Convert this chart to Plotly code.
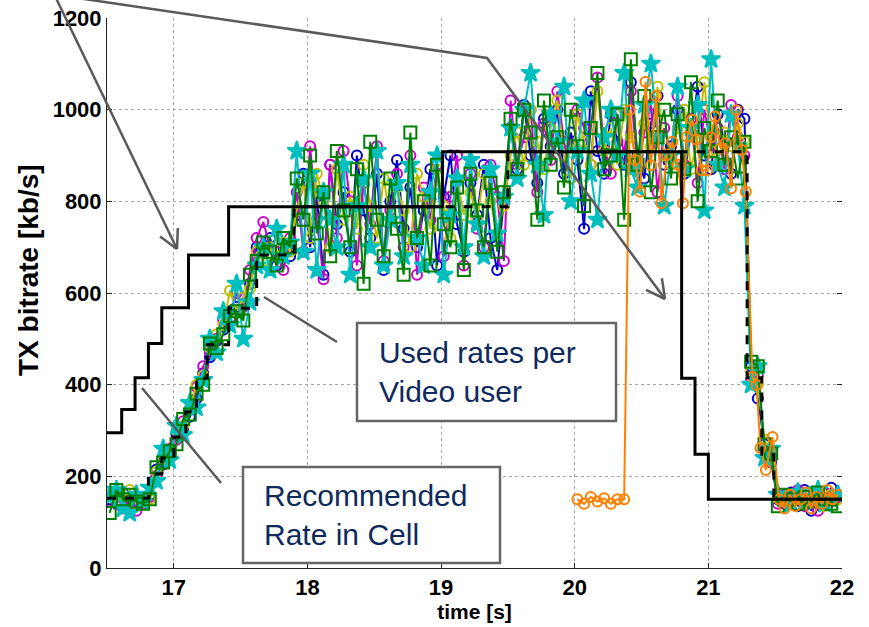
import math
import plotly.graph_objects as go

# ---------------------------------------------------------------------------
# Data
# ---------------------------------------------------------------------------
# reporting instants of the five video users (s)
t_user = [round(16.52 + 0.05 * k, 2) for k in range(110)]

user_blue = [
    150, 140, 165, 135, 155, 150, 160,
    215, 230, 250, 290, 305, 330, 370, 425, 460, 495, 520, 560, 570, 590, 620, 700,
    690, 720, 660, 700, 680,
    770, 860, 700, 810, 640, 880, 750, 820, 690, 900, 780, 720, 860, 650, 800, 890,
    740, 830, 700, 780, 870, 660, 810, 900, 750, 690, 840, 770, 880, 720, 650, 800,
    960, 870, 1010, 900, 840, 980, 920, 1000, 860, 950, 890, 740, 1040, 910, 860, 990,
    930, 880, 1060, 900, 850, 970, 1030, 880, 920, 1000, 860, 950, 1050, 900, 870, 990,
    930, 860, 1000, 980,
    440, 370, 270, 230,
    150, 140, 165, 135, 170, 125, 160, 145, 175, 160,
]
user_magenta = [
    145, 160, 130, 150, 125, 140, 155,
    200, 225, 260, 280, 320, 345, 395, 440, 470, 500, 540, 545, 600, 570, 650, 720,
    755, 700, 690, 650, 720,
    820, 690, 920, 760, 630, 880, 720, 910, 800, 660, 840, 750, 920, 670, 780, 860,
    700, 900, 640, 830, 760, 880, 680, 810, 900, 660, 860, 740, 700, 880, 810, 670,
    1020, 880, 940, 1000, 820, 970, 890, 1040, 930, 850, 1000, 960, 880, 1070, 920, 860,
    990, 900, 1040, 870, 950, 1010, 820, 960, 900, 1030, 880, 980, 840, 1000, 920, 960,
    870, 1010, 940, 900,
    410, 420, 260, 245,
    140, 160, 150, 170, 135, 150, 125, 165, 145, 155,
]
user_olive = [
    160, 145, 155, 170, 140, 155, 150,
    210, 240, 245, 300, 310, 350, 400, 420, 480, 510, 530, 605, 560, 590, 610, 690,
    670, 700, 680, 710, 690,
    780, 840, 720, 860, 800, 700, 870, 760, 810, 740, 880, 790, 720, 850, 760, 830,
    780, 700, 860, 810, 740, 870, 790, 720, 850, 770, 820, 760, 860, 800, 730, 790,
    900, 950, 880, 1000, 930, 870, 960, 1020, 900, 850, 990, 930, 880, 1040, 910, 960,
    880, 1000, 940, 890, 970, 920, 1050, 900, 880, 960, 1000, 870, 940, 1060, 910, 880,
    950, 920, 970, 930,
    430, 400, 280, 240,
    155, 145, 160, 150, 140, 165, 150, 135, 160, 150,
]
user_cyan = [
    155, 170, 130, 120, 160, 145, 175,
    190, 260, 235, 310, 290, 360, 350, 410, 500, 470, 560, 530, 620, 500, 580, 660,
    700, 650, 740, 680, 710,
    910, 690, 860, 650, 820, 760, 700, 880, 640, 790, 850, 700, 910, 660, 760, 840,
    680, 880, 720, 660, 820, 900, 640, 770, 850, 700, 890, 750, 680, 870, 730, 810,
    960, 850, 1000, 1080, 880, 770, 990, 930, 1050, 800, 910, 1020, 860, 760, 940, 1000,
    900, 1080, 870, 830, 1010, 1100, 940, 790, 900, 1050, 870, 960, 1010, 780, 1110, 880,
    830, 990, 920, 790,
    400, 440, 240, 260,
    160, 150, 140, 165, 145, 155, 170, 140, 150, 160,
]
user_green = [
    120, 170, 150, 160, 145, 140, 150,
    220, 230, 255, 270, 325, 335, 380, 400, 490, 480, 510, 550, 560, 540, 640, 670,
    710, 690, 660, 720, 700,
    850, 760, 900, 730, 820, 680, 910, 780, 700, 870, 620, 930, 760, 680, 850, 740,
    640, 950, 720, 800, 660, 880, 750, 700, 830, 650, 860, 780, 700, 840, 690, 820,
    980, 870, 1000, 950, 760, 1020, 880, 940, 830, 1000, 920, 790, 960, 1080, 870, 900,
    990, 760, 1110, 880, 1030, 820, 940, 1000, 850, 990, 870, 1060, 800, 960, 910, 1020,
    880, 940, 850, 930,
    450, 440, 270, 250,
    135, 160, 150, 140, 155, 145, 165, 150, 140, 135,
]

# sixth user joins late
t_orange = [
    20.02, 20.07, 20.12, 20.17, 20.22, 20.27, 20.32, 20.37,
    20.41, 20.45, 20.49, 20.53, 20.57, 20.61, 20.65, 20.69,
    20.73, 20.77, 20.81, 20.84, 20.88, 20.91, 20.95, 20.99,
    21.02, 21.05, 21.09, 21.13, 21.17, 21.21, 21.25, 21.28,
    21.33, 21.36, 21.39, 21.43, 21.48,
    21.53, 21.57, 21.61, 21.65, 21.69, 21.73, 21.77, 21.81,
    21.85, 21.89, 21.93, 21.97,
]
user_orange = [
    150, 140, 155, 145, 152, 140, 150, 150,
    999, 890, 821, 1061, 879, 1030, 796, 901,
    930, 880, 796, 941, 978, 935, 868, 868,
    940, 985, 916, 927, 828, 999, 912, 821,
    417, 399, 262, 214, 286,
    150, 130, 160, 135, 150, 165, 130, 155,
    140, 170, 150, 160,
]

# recommended cell rate (step changes)
t_recommended = [16.5, 16.61, 16.71, 16.81, 16.91, 17.11, 17.41, 19.01, 20.80, 20.90, 21.00, 22.0]
rate_recommended = [295, 346, 415, 490, 568, 683, 788, 908, 414, 248, 150, 150]

# rate actually selected for the video users (step changes)
t_selected = [16.5, 16.81, 16.91, 17.0, 17.09, 17.17, 17.25, 17.41, 17.62, 17.9,
              19.5, 21.29, 21.40, 21.49, 22.0]
rate_selected = [152, 205, 240, 286, 341, 414, 487, 567, 683, 788,
                 908, 415, 248, 150, 150]

x_ticks = [17, 18, 19, 20, 21, 22]
y_ticks = [0, 200, 400, 600, 800, 1000, 1200]

# ---------------------------------------------------------------------------
# Figure
# ---------------------------------------------------------------------------
W, H = 869, 627
L, R, T, B = 107, 27, 18, 59
PW, PH = W - L - R, H - T - B

FONT = "Arial, Liberation Sans, sans-serif"
TEXT_BLUE = "#0E2A5C"
GREY = "#5A5A5A"
AXIS = "#222222"

fig = go.Figure()

users = [
    (user_blue, "#0000CC", "circle-open", 10),
    (user_magenta, "#CC00CC", "circle-open", 10),
    (user_olive, "#BFBF00", "circle-open", 10),
    (user_cyan, "#00BFBF", "star", 14),
    (user_green, "#008000", "square-open", 12),
]
for vals, col, sym, sz in users:
    fig.add_trace(go.Scatter(
        x=t_user, y=vals, mode="lines+markers",
        line=dict(color=col, width=2),
        marker=dict(symbol=sym, size=sz, color=col, line=dict(color=col, width=2)),
        hoverinfo="skip",
    ))

fig.add_trace(go.Scatter(
    x=t_orange, y=user_orange, mode="lines+markers",
    line=dict(color="#FF8000", width=2),
    marker=dict(symbol="circle-open", size=10, color="#FF8000",
                line=dict(color="#FF8000", width=2)),
    hoverinfo="skip",
))

fig.add_trace(go.Scatter(
    x=t_recommended, y=rate_recommended, mode="lines", line_shape="hv",
    line=dict(color="black", width=3), hoverinfo="skip",
))
fig.add_trace(go.Scatter(
    x=t_selected, y=rate_selected, mode="lines", line_shape="hv",
    line=dict(color="black", width=3, dash="dash"), hoverinfo="skip",
))

# empty trace carrying the mirrored right-hand tick marks
fig.add_trace(go.Scatter(x=[], y=[], yaxis="y2", hoverinfo="skip"))


def px(xp):
    return (xp - L) / PW


def py(yp):
    return (H - B - yp) / PH


def arrow_arms(x0, y0, x1, y1, length=21, spread=28):
    ang = math.atan2(y1 - y0, x1 - x0)
    arms = []
    for s in (1, -1):
        a = ang + math.pi + s * math.radians(spread)
        arms.append((x1 + length * math.cos(a), y1 + length * math.sin(a)))
    return arms


shapes = []


def seg(x0, y0, x1, y1):
    shapes.append(dict(type="line", xref="paper", yref="paper",
                       x0=px(x0), y0=py(y0), x1=px(x1), y1=py(y1),
                       line=dict(color=GREY, width=2.5), layer="above"))


# callout arrows coming in from the top
seg(55, -4, 177, 249)
for ax, ay in arrow_arms(55, -4, 177, 249):
    seg(177, 249, ax, ay)
poly = [(50, -6), (487, 58), (665, 299)]
shapes.append(dict(
    type="path", xref="paper", yref="paper",
    path="M {} {} L {} {} L {} {}".format(px(poly[0][0]), py(poly[0][1]),
                                         px(poly[1][0]), py(poly[1][1]),
                                         px(poly[2][0]), py(poly[2][1])),
    line=dict(color=GREY, width=2.5), layer="above"))
for ax, ay in arrow_arms(487, 58, 665, 299):
    seg(665, 299, ax, ay)

# leader lines of the two text boxes
seg(264, 297, 337, 342)
seg(142, 388, 221, 483)

# text boxes
for (x0, y0, x1, y1) in [(357, 323, 616, 421), (243, 467, 500, 563)]:
    shapes.append(dict(type="rect", xref="paper", yref="paper",
                       x0=px(x0), y0=py(y1), x1=px(x1), y1=py(y0),
                       line=dict(color="#666666", width=2.5),
                       fillcolor="white", layer="above"))

bold = dict(family=FONT, color="black", weight="bold")
annotations = [
    dict(xref="paper", yref="paper", x=px(377), y=py(372), xanchor="left",
         yanchor="middle", align="left", showarrow=False,
         text="Used rates per<br>Video user",
         font=dict(family=FONT, size=30, color=TEXT_BLUE)),
    dict(xref="paper", yref="paper", x=px(262), y=py(515), xanchor="left",
         yanchor="middle", align="left", showarrow=False,
         text="Recommended<br>Rate in Cell",
         font=dict(family=FONT, size=30, color=TEXT_BLUE)),
    # y-axis label
    dict(xref="paper", yref="paper", x=px(28), y=py(270), xanchor="center",
         yanchor="middle", textangle=-90, showarrow=False,
         text="TX bitrate [kb/s]", font=dict(size=28, **bold)),
]

axis_common = dict(
    showgrid=True, gridcolor="#A8A8A8", griddash="dot", gridwidth=1,
    zeroline=False, ticks="inside", ticklen=5, tickwidth=1, tickcolor=AXIS,
    showline=True, linecolor=AXIS, linewidth=1,
    tickfont=dict(size=22, **bold),
)

fig.update_layout(
    width=W, height=H,
    margin=dict(l=L, r=R, t=T, b=B, autoexpand=False),
    plot_bgcolor="white", paper_bgcolor="white",
    showlegend=False,
    xaxis=dict(range=[16.5, 22], tickvals=x_ticks, automargin=False,
               title=dict(text="time [s]", standoff=2,
                          font=dict(size=21, **bold)),
               **axis_common),
    yaxis=dict(range=[0, 1200], tickvals=y_ticks, automargin=False,
               **axis_common),
    yaxis2=dict(range=[0, 1200], tickvals=y_ticks, overlaying="y", side="right",
                showgrid=False, zeroline=False, showline=False,
                showticklabels=False, ticks="inside", ticklen=5,
                tickcolor=AXIS, automargin=False),
    shapes=shapes,
    annotations=annotations,
)

fig.write_html("out.html")
